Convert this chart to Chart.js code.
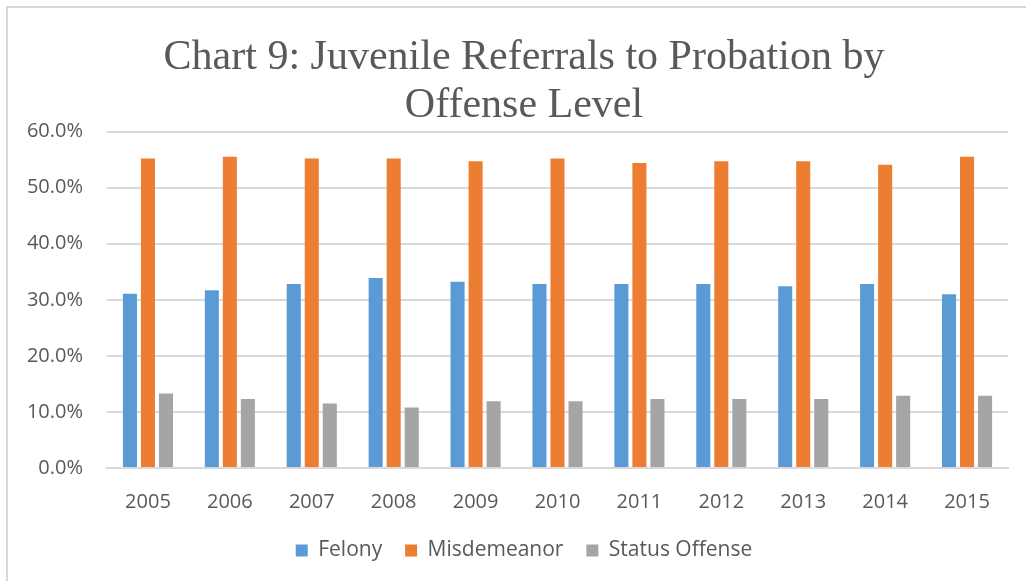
<!DOCTYPE html>
<html>
<head>
<meta charset="utf-8">
<script src="https://cdn.jsdelivr.net/npm/chart.js@4/dist/chart.umd.min.js"></script>
<style>
  html, body { margin: 0; padding: 0; background: #fff; }
  #wrap { position: relative; width: 1026px; height: 581px; overflow: hidden; }
  #frame { position: absolute; left: 6px; top: 6px; width: 1040px; height: 600px;
           border-left: 2px solid #d9d9d9; border-top: 2px solid #d9d9d9; }
  canvas { position: absolute; left: 0; top: 0; }
</style>
</head>
<body>
<div id="wrap">
  <div id="frame"></div>
  <canvas id="chart" width="1026" height="581"></canvas>
</div>
<script>
'use strict';

// ── Data ─────────────────────────────────────────────
const years = ['2005', '2006', '2007', '2008', '2009', '2010', '2011', '2012', '2013', '2014', '2015'];
const felony        = [31.1, 31.7, 32.8, 33.9, 33.2, 32.8, 32.8, 32.8, 32.4, 32.8, 31.0];
const misdemeanor   = [55.2, 55.5, 55.2, 55.2, 54.7, 55.2, 54.4, 54.7, 54.7, 54.1, 55.5];
const statusOffense = [13.3, 12.3, 11.5, 10.8, 11.9, 11.9, 12.3, 12.3, 12.3, 12.9, 12.9];
const yTicks = [0, 10, 20, 30, 40, 50, 60];

const textGray = '#595959';
const gridGray = '#d9d9d9';
const sans = "'Open Sans', sans-serif";

// legend: horizontal gap wider than the vertical padding, so pad the first two labels
const legendGap = '  ';

// y axis box is pinned narrow (see afterFit); widen its label clip area back to the canvas edge
const yLabelRoom = {
  id: 'yLabelRoom',
  afterLayout(chart) { chart.scales.y.left = 0; },
};

new Chart(document.getElementById('chart'), {
  type: 'bar',
  data: {
    labels: years,
    datasets: [
      { label: 'Felony' + legendGap,      data: felony,        backgroundColor: '#5b9bd5' },
      { label: 'Misdemeanor' + legendGap, data: misdemeanor,   backgroundColor: '#ed7d31' },
      { label: 'Status Offense',          data: statusOffense, backgroundColor: '#a5a5a5' },
    ],
  },
  plugins: [yLabelRoom],
  options: {
    responsive: false,
    animation: false,
    categoryPercentage: 0.66,
    barPercentage: 0.78,
    // left padding is large so title/legend centre like the original; y axis width is pinned below
    layout: { padding: { left: 40, right: 18, top: 0, bottom: 10 } },
    plugins: {
      title: {
        display: true,
        text: ['Chart 9: Juvenile Referrals to Probation by', 'Offense Level'],
        color: textGray,
        font: { family: "'Liberation Serif', 'Times New Roman', serif", size: 42, weight: 'normal', lineHeight: 1.15 },
        padding: { top: 34, bottom: 1 },
      },
      legend: {
        position: 'bottom',
        labels: {
          color: textGray,
          font: { family: sans, size: 21 },
          boxWidth: 12,
          boxHeight: 12,
          padding: 12,
        },
      },
      tooltip: { enabled: false },
    },
    scales: {
      x: {
        grid: { display: false },
        border: { color: gridGray, width: 2 },
        ticks: { color: textGray, font: { family: sans, size: 20 }, padding: 14 },
      },
      y: {
        min: 0,
        max: 60,
        afterBuildTicks: axis => { axis.ticks = yTicks.map(v => ({ value: v })); },
        afterFit: axis => { axis.width = 67; },
        grid: { color: gridGray, lineWidth: 2, drawTicks: false },
        border: { display: false },
        ticks: {
          color: textGray,
          font: { family: sans, size: 20 },
          padding: 24,
          callback: v => v.toFixed(1) + '%',
        },
      },
    },
  },
});
</script>
</body>
</html>
